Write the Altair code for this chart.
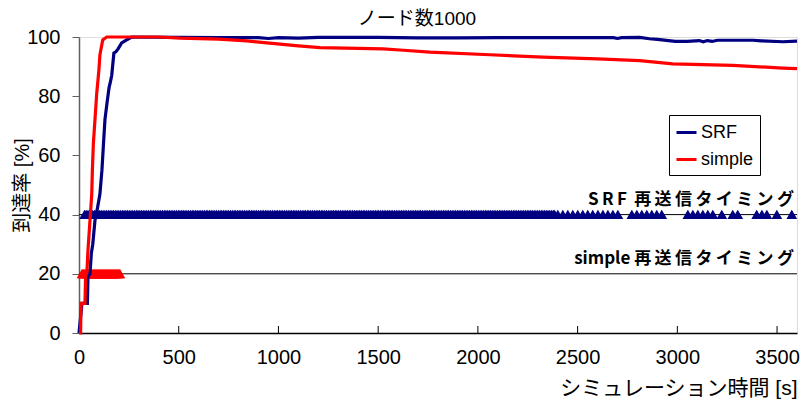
import altair as alt
import pandas as pd

# ---- data ----
srf_t = [0, 15, 42, 45, 55, 62, 69, 80, 88, 100, 105, 115, 122, 130, 141, 151, 158, 164, 175, 185, 196, 214, 239, 264,
         500, 700, 900, 950, 1000, 1100, 1200, 1500, 1700, 1900, 2100, 2300, 2500, 2680, 2700, 2720, 2812,
         2860, 2900, 2990, 3050, 3110, 3130, 3150, 3175, 3200, 3380, 3420, 3529, 3600]
srf_v = [0, 10, 10, 19, 20, 27, 30, 38, 40.5, 45, 47, 55, 63, 72, 78, 83, 85, 87, 94.6, 95, 96, 98, 99, 100,
         99.9, 99.8, 99.8, 99.5, 99.8, 99.6, 99.9, 99.9, 99.7, 99.7, 99.8, 99.8, 99.8, 99.8, 99.5, 99.8, 99.9,
         99.4, 99.2, 98.5, 98.5, 98.8, 98.4, 98.8, 98.5, 98.9, 98.9, 98.7, 98.4, 98.6]

simple_t = [0, 8, 10, 30, 33, 40, 45, 55, 64, 67, 72, 80, 89, 100, 105, 119, 139,
            400, 506, 700, 841, 942, 1100, 1208, 1525, 1609, 1759, 2060, 2326, 2600, 2812, 2977, 3278, 3529, 3600]
simple_v = [0, 0, 10, 10, 19, 21, 28, 38, 47, 55, 64, 72, 81, 89, 94, 99, 100,
            100, 99.6, 99.3, 98.7, 98.0, 97.0, 96.4, 96.0, 95.6, 94.9, 94.0, 93.2, 92.6, 92.0, 90.9, 90.4, 89.5, 89.3]

srf_timing_t = [28, 45, 60, 78, 95, 112, 130, 148, 165, 182, 200, 218, 235, 252, 270, 288, 305, 322, 340, 358,
                375, 392, 410, 428, 445, 462, 480, 498, 515, 532, 550, 568, 585, 602, 620, 638, 655, 672, 690, 708,
                725, 742, 760, 778, 795, 812, 830, 848, 865, 882, 900, 918, 935, 952, 970, 988, 1005, 1022, 1040,
                1058, 1075, 1092, 1110, 1128, 1145, 1162, 1180, 1198, 1215, 1232, 1250, 1268, 1285, 1302, 1320,
                1338, 1355, 1372, 1390, 1408, 1425, 1442, 1460, 1478, 1495, 1512, 1530, 1548, 1565, 1582, 1600,
                1618, 1635, 1652, 1670, 1688, 1705, 1722, 1740, 1758, 1775, 1792, 1810, 1828, 1845, 1862, 1880,
                1898, 1915, 1932, 1950, 1968, 1985, 2002, 2020, 2038, 2055, 2072, 2090, 2108, 2125, 2142, 2160,
                2178, 2195, 2212, 2230, 2248, 2265, 2282, 2300, 2318, 2335, 2352, 2370, 2385,
                36, 52, 69, 86, 104, 121, 139, 156, 173, 191, 209, 226, 243, 261, 279, 296, 313, 331, 349, 366,
                383, 401, 419, 436, 453, 471, 489, 506, 523, 541, 559, 576, 593, 611, 629, 646, 663, 681, 699, 716,
                733, 751, 769, 786, 803, 821, 839, 856, 873, 891, 909, 926, 943, 961, 979, 996, 1013, 1031, 1049,
                1066, 1083, 1101, 1119, 1136, 1153, 1171, 1189, 1206, 1223, 1241, 1259, 1276, 1293, 1311, 1329,
                1346, 1363, 1381, 1399, 1416, 1433, 1451, 1469, 1486, 1503, 1521, 1539, 1556, 1573, 1591, 1609,
                1626, 1643, 1661, 1679, 1696, 1713, 1731, 1749, 1766, 1783, 1801, 1819, 1836, 1853, 1871, 1889,
                1906, 1923, 1941, 1959, 1976, 1993, 2011, 2029, 2046, 2063, 2081, 2099, 2116, 2133, 2151, 2169,
                2186, 2203, 2221, 2239, 2256, 2273, 2291, 2309, 2326, 2343, 2361, 2378,
                2401, 2426, 2451, 2476, 2501, 2526, 2551, 2576, 2602, 2627, 2652, 2677, 2702,
                2772, 2797, 2822, 2847, 2872, 2897, 2922,
                3053, 3078, 3103, 3128, 3153, 3178, 3223, 3278, 3303, 3398, 3424, 3449, 3499, 3574]
simple_timing_t = [15, 20, 25, 30, 35, 40, 45, 50, 55, 60, 65, 70, 75, 80, 85, 90, 95, 100, 105, 110, 115, 120,
                   125, 130, 135, 140, 145, 150, 155, 160, 165, 170, 175, 180, 185, 190, 195, 200, 205]

timing_levels = [40, 20]
timing_labels = ["S\u2009R\u2009F\u2009 再\u2009送\u2009信\u2009タ\u2009イ\u2009ミ\u2009ン\u2009グ",
                 "simple 再\u2009送\u2009信\u2009タ\u2009イ\u2009ミ\u2009ン\u2009グ"]
x_tick_values = [0, 500, 1000, 1500, 2000, 2500, 3000, 3500]
y_tick_values = [0, 20, 40, 60, 80, 100]
series = ["SRF", "simple"]
colors = ["#000080", "#FF0000"]

W, H = 718, 296
JP = "Liberation Sans, Noto Sans CJK JP"

lines_df = pd.concat([
    pd.DataFrame({"t": srf_t, "v": srf_v, "series": "SRF", "ord": range(len(srf_t))}),
    pd.DataFrame({"t": simple_t, "v": simple_v, "series": "simple", "ord": range(len(simple_t))}),
])
srf_tim_df = pd.DataFrame({"t": srf_timing_t, "v": timing_levels[0]})
sim_tim_df = pd.DataFrame({"t": simple_timing_t, "v": timing_levels[1]})
lvl_df = pd.DataFrame({"v": timing_levels, "label": timing_labels, "t": [3600, 3600]})
tick_df = pd.DataFrame({"t": x_tick_values[1:]})

xscale = alt.Scale(domain=[0, 3600], nice=False, zero=False)
yscale = alt.Scale(domain=[0, 100], nice=False)

xaxis = alt.Axis(values=x_tick_values, format="d", ticks=False, grid=False, labelFontSize=20,
                 labelFont="Liberation Sans", labelColor="#000", labelPadding=14, domainColor="#000",
                 domainWidth=1.5, title="シミュレーション時間 [s]", titleFont=JP, titleFontSize=21,
                 titleFontWeight="normal", titleColor="#000", titleAnchor="end", titleAlign="right",
                 titlePadding=10, labelFlush=False)
yaxis = alt.Axis(values=y_tick_values, tickSize=7, tickColor="#606060", grid=False, labelFontSize=20,
                 labelFont="Liberation Sans", labelColor="#000", labelPadding=12, domainColor="#606060",
                 domainWidth=1.5, title="到達率 [%]", titleFont=JP, titleFontSize=20, titleFontWeight="normal",
                 titleColor="#000", titleX=-57, titleY=H / 2, titleAngle=-90, titleAlign="center",
                 titleBaseline="middle")

rules = alt.Chart(lvl_df).mark_rule(color="#000", strokeWidth=1).encode(
    y=alt.Y("v:Q", scale=yscale, axis=yaxis))

srf_tri = alt.Chart(srf_tim_df).mark_point(shape="triangle-up", filled=True, size=75, color=colors[0],
                                           opacity=1, stroke=colors[0], strokeWidth=1.2).encode(
    x=alt.X("t:Q", scale=xscale, axis=xaxis), y=alt.Y("v:Q", scale=yscale))
sim_tri = alt.Chart(sim_tim_df).mark_point(shape="triangle-up", filled=True, size=75, color=colors[1],
                                           opacity=1, stroke=colors[1], strokeWidth=1.2).encode(
    x=alt.X("t:Q", scale=xscale), y=alt.Y("v:Q", scale=yscale))

lines = alt.Chart(lines_df).mark_line(strokeWidth=3.2).encode(
    x=alt.X("t:Q", scale=xscale),
    y=alt.Y("v:Q", scale=yscale),
    order="ord:Q",
    color=alt.Color("series:N", scale=alt.Scale(domain=series, range=colors),
                    legend=alt.Legend(title=None, orient="none", legendX=590, legendY=78,
                                      strokeColor="#000", fillColor="#fff", padding=6,
                                      labelFontSize=18, labelFont="Liberation Sans", labelColor="#000",
                                      symbolType="stroke", symbolStrokeWidth=3, symbolSize=400,
                                      rowPadding=6, labelOffset=3)))

labels = alt.Chart(lvl_df).mark_text(align="right", baseline="bottom", dx=-3, dy=-6, fontSize=17,
                                     fontWeight="bold", font="Noto Sans CJK JP", color="#000").encode(
    x=alt.X("t:Q", scale=xscale), y=alt.Y("v:Q", scale=yscale), text="label:N")

xticks = alt.Chart(tick_df).mark_rule(color="#000", strokeWidth=1).encode(
    x=alt.X("t:Q", scale=xscale), y=alt.value(H), y2=alt.value(H - 7))

chart = alt.layer(rules, srf_tri, sim_tri, lines, labels, xticks).properties(
    width=W, height=H,
    title=alt.TitleParams("ノード数1000", font=JP, fontSize=19, fontWeight="normal", color="#000",
                          anchor="middle", dx=-21, dy=10, offset=8),
    autosize=alt.AutoSizeParams(type="none"),
    padding={"left": 79, "top": 37, "right": 3, "bottom": 68},
).configure_view(stroke="#909090", strokeWidth=1.5).configure(background="#fff")

chart.save("out.html", embed_options={"renderer": "svg", "actions": False})
